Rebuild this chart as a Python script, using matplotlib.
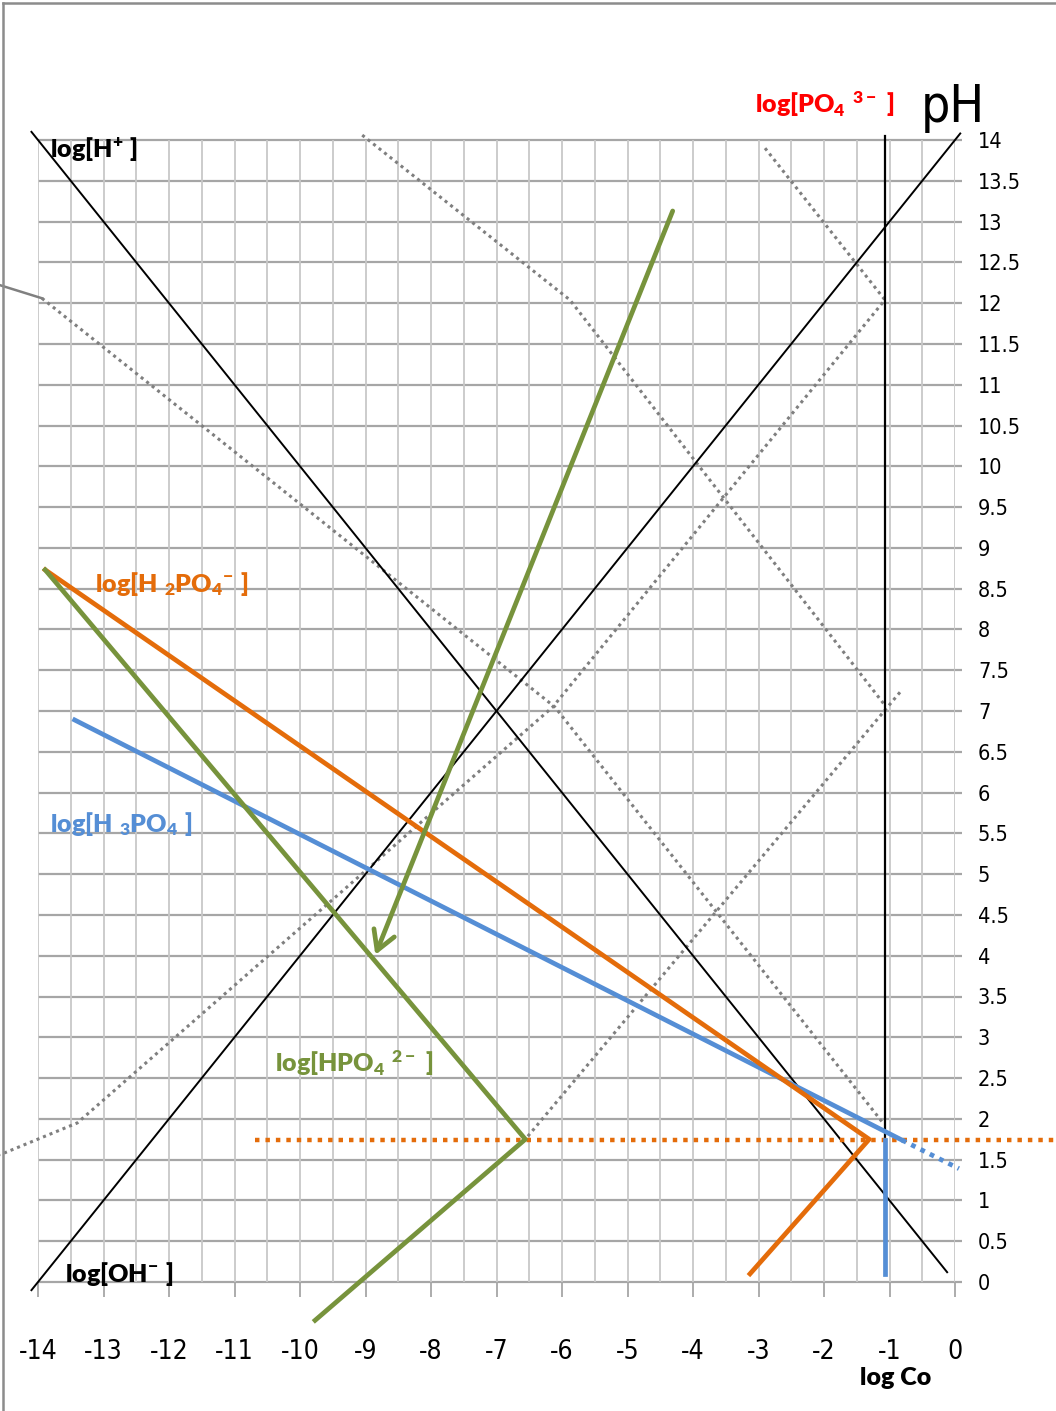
import matplotlib
matplotlib.use('Agg')
import matplotlib.pyplot as plt
from matplotlib.lines import Line2D
import numpy as np

plt.rcParams['font.family'] = ['DejaVu Sans']
plt.rcParams['font.stretch'] = 'condensed'
plt.rcParams['axes.unicode_minus'] = False
plt.rcParams['mathtext.fontset'] = 'custom'
plt.rcParams['mathtext.rm'] = 'Lato:heavy'
plt.rcParams['mathtext.bf'] = 'Lato:heavy'
plt.rcParams['mathtext.it'] = 'Lato:heavy'
plt.rcParams['mathtext.default'] = 'bf'

# axis ticks
ph_ticks = [0, 0.5, 1, 1.5, 2, 2.5, 3, 3.5, 4, 4.5, 5, 5.5, 6, 6.5, 7,
            7.5, 8, 8.5, 9, 9.5, 10, 10.5, 11, 11.5, 12, 12.5, 13, 13.5, 14]
ph_labels = ['0', '0.5', '1', '1.5', '2', '2.5', '3', '3.5', '4', '4.5', '5',
             '5.5', '6', '6.5', '7', '7.5', '8', '8.5', '9', '9.5', '10',
             '10.5', '11', '11.5', '12', '12.5', '13', '13.5', '14']
logc_ticks = [-14, -13, -12, -11, -10, -9, -8, -7, -6, -5, -4, -3, -2, -1, 0]
logc_labels = ['-14', '-13', '-12', '-11', '-10', '-9', '-8', '-7', '-6',
               '-5', '-4', '-3', '-2', '-1', '0']

# water lines
h_x = [-14.1, -0.12]
h_ph = [14.1, 0.12]
oh_x = [-14.1, 0.08]
oh_ph = [-0.1, 14.08]

# total concentration and pKa level
log_co = -1.07
co_ph = [14.05, 1.74]
pka_x = [-10.69, 1.54]
pka_ph = [1.74, 1.74]

# species lines
h3po4_x = [-13.44, -0.81]
h3po4_ph = [6.89, 1.74]
h3po4_ext_x = [-0.81, 0.06]
h3po4_ext_ph = [1.74, 1.39]
h3po4_low_ph = [1.74, 0.10]
h2po4_x = [-13.89, -1.31, -3.13]
h2po4_ph = [8.73, 1.75, 0.10]
hpo4_x = [-13.89, -6.56, -9.77]
hpo4_ph = [8.73, 1.75, -0.47]
arrow_x = [-4.31, -8.85]
arrow_ph = [13.13, 4.01]

# gray helper lines
guide_a_x = [-9.05, -5.88, -1.07]
guide_a_ph = [14.06, 12.04, 7.07]
guide_b_x = [-13.94, -6.11, -1.10]
guide_b_ph = [12.06, 7.05, 1.95]
guide_b_stub_x = [-14.58, -13.94]
guide_b_stub_ph = [12.22, 12.06]
guide_c_x = [-2.90, -1.07, -6.14, -13.40, -14.58]
guide_c_ph = [13.90, 12.04, 7.05, 1.95, 1.56]
guide_d_x = [-0.84, -6.56]
guide_d_ph = [7.23, 1.75]

blue = '#558ed5'
orange = '#e46c0a'
green = '#77933c'
gray = '#7f7f7f'

W, H = 1056, 1411
fig = plt.figure(figsize=(W / 100, H / 100), dpi=100)
ax = fig.add_axes([38 / W, 129 / H, 917 / W, 1142 / H])
ax.set_xlim(-14, 0)
ax.set_ylim(0, 14)
for s in ax.spines.values():
    s.set_visible(False)

# grid
grid_ph = np.arange(0, 14.01, 0.5)
grid_x = np.arange(-14, 0.01, 0.5)
ax.hlines(grid_ph, -14, 0.1, colors='#a6a6a6', lw=1.6, clip_on=False, zorder=0)
ax.vlines(grid_x, 0, 14, colors='#c8c8c8', lw=1.3, zorder=0)

# ticks
ax.set_xticks(logc_ticks)
ax.set_xticklabels(logc_labels)
ax.tick_params(axis='x', length=10.8, width=1.3, color='#a6a6a6', pad=30,
               labelsize=19)
ax.yaxis.tick_right()
ax.set_yticks(ph_ticks)
ax.set_yticklabels(ph_labels)
ax.tick_params(axis='y', length=0, pad=16.5, labelsize=15.5)

# gray dotted helper lines
dot = (0, (1, 1.3))
for gx, gy in [(guide_a_x, guide_a_ph), (guide_b_x, guide_b_ph),
               (guide_c_x, guide_c_ph), (guide_d_x, guide_d_ph)]:
    ax.plot(gx, gy, color=gray, lw=2.2, ls=dot, clip_on=False, zorder=1)
ax.plot(guide_b_stub_x, guide_b_stub_ph, color='#808080', lw=1.8,
        clip_on=False, zorder=1)

# black lines
ax.plot(h_x, h_ph, color='black', lw=1.4, clip_on=False, zorder=2)
ax.plot(oh_x, oh_ph, color='black', lw=1.4, clip_on=False, zorder=2)
ax.plot([log_co, log_co], co_ph, color='black', lw=1.6, clip_on=False, zorder=2)

# pKa dotted line
ax.plot(pka_x, pka_ph, color=orange, lw=3.2, ls=(0, (1, 1.35)),
        clip_on=False, zorder=3)

# species
ax.plot(h3po4_x, h3po4_ph, color=blue, lw=3.4, clip_on=False, zorder=4)
ax.plot(h3po4_ext_x, h3po4_ext_ph, color=blue, lw=3.4, ls=(0, (1, 1.2)),
        clip_on=False, zorder=4)
ax.plot([log_co, log_co], h3po4_low_ph, color=blue, lw=3.4, clip_on=False,
        zorder=4)
ax.plot(h2po4_x, h2po4_ph, color=orange, lw=3.4, clip_on=False, zorder=4)
ax.plot(hpo4_x, hpo4_ph, color=green, lw=3.4, clip_on=False, zorder=4)
ax.annotate('', xy=(arrow_x[1], arrow_ph[1]), xytext=(arrow_x[0], arrow_ph[0]),
            arrowprops=dict(arrowstyle='->,head_length=1.37,head_width=0.79',
                            color=green, lw=3.4, shrinkA=0, shrinkB=0),
            annotation_clip=False, zorder=5)

# labels
fs = 18
ax.text(-13.82, 13.79, r'$log[H^{+}\ ]$', color='black', fontsize=fs)
ax.text(-3.05, 14.33, r'$log[PO_{4}\ {}^{3-}\ ]$', color='red', fontsize=fs)
ax.text(-13.13, 8.46, r'$log[H\ {}_{2}PO_{4}{}^{-}\ ]$', color=orange, fontsize=fs)
ax.text(-13.82, 5.52, r'$log[H\ {}_{3}PO_{4}\ ]$', color=blue, fontsize=fs)
ax.text(-10.38, 2.57, r'$log[HPO_{4}\ {}^{2-}\ ]$', color=green, fontsize=fs)
ax.text(-13.59, 0.0, r'$log[OH^{-}\ ]$', color='black', fontsize=fs)
ax.text(-1.45, -1.26, 'log Co', color='black', fontsize=fs,
        family=['Lato', 'DejaVu Sans'], fontweight='heavy', fontstretch='normal')
ax.text(-0.52, 14.22, 'pH', color='black', fontsize=37)

# page border
fig.add_artist(Line2D([3 / W, 3 / W], [0, 1 - 3 / H], transform=fig.transFigure,
                      color='#8c8c8c', lw=1.8))
fig.add_artist(Line2D([3 / W, 1], [1 - 3 / H, 1 - 3 / H],
                      transform=fig.transFigure, color='#8c8c8c', lw=1.8))

fig.savefig('out.png', dpi=100)
